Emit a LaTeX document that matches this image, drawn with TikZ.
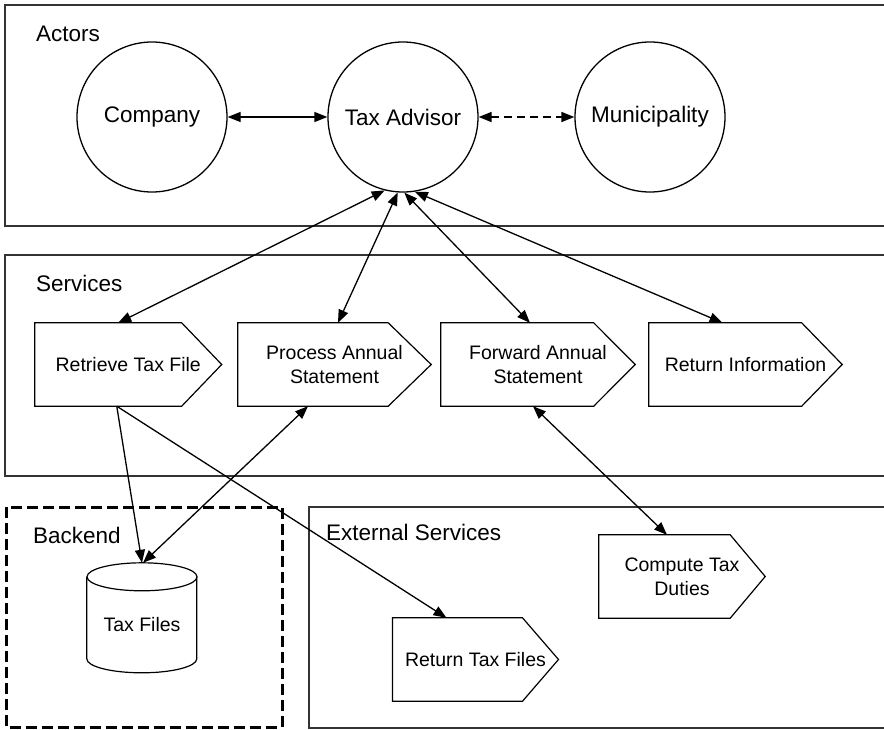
\documentclass[tikz,border=0pt]{standalone}
\usepackage{fontspec}
\setmainfont{Liberation Sans}
\usetikzlibrary{arrows.meta,calc}

% pentagon ("process step") outline around a named node; #2 = depth of the point
\newcommand\arrowbox[2]{%
  \draw[line width=1.2pt] (#1.north west) -- ([xshift=-#2pt]#1.north east)
    -- (#1.east) -- ([xshift=-#2pt]#1.south east) -- (#1.south west) -- cycle;}

\begin{document}
\begin{tikzpicture}[x=1pt,y=-1pt,
  frame/.style={draw=black!80, line width=2pt},
  lbl/.style={anchor=base west, inner sep=0pt, font=\fontsize{22.5}{27}\selectfont},
  actor/.style={circle, draw, line width=1.3pt, minimum size=150pt, inner sep=0pt,
                font=\fontsize{22.5}{27}\selectfont},
  svc/.style={draw=none, minimum height=83pt, inner sep=0pt, align=center,
              font=\fontsize{19.5}{24}\selectfont},
  tip/.tip={Triangle[length=13pt,width=10pt]},
  link/.style={line width=1.3pt, -tip},
  both/.style={line width=1.3pt, tip-tip},
]
\useasboundingbox (0,0) rectangle (884,729);
\clip (0,0) rectangle (884,729);

% layers
\draw[frame] (5,5) rectangle (900,226);
\draw[frame] (5,255) rectangle (900,476);
\draw[frame] (309,507) rectangle (900,728);
\draw[draw=black, line width=3pt, dash pattern=on 11pt off 5pt] (6,507) rectangle (282,727);

\node[lbl] (lact) at (36,41) {Actors};
\node[lbl] (lsrv) at (36,291) {Services};
\node[lbl] (lbck) at (33,543) {Backend};
\node[lbl] (lext) at (326,540) {External Services};

% actors
\node[actor] (co) at (152,117) {Company};
\node[actor] (ta) at (403,117) {Tax Advisor};
\node[actor] (mu) at (650,117) {Municipality};

% services
\node[svc, minimum width=186.5pt] (rt) at (128.25,364.5) {Retrieve Tax File};
\arrowbox{rt}{40}
\node[svc, minimum width=193pt] (pa) at (334.5,364.5) {Process Annual\\Statement};
\arrowbox{pa}{43}
\node[svc, minimum width=194pt] (fa) at (538,364.5) {Forward Annual\\Statement};
\arrowbox{fa}{41.5}
\node[svc, minimum width=193pt] (ri) at (745.5,364.5) {Return Information};
\arrowbox{ri}{40.5}

% external services
\node[svc, minimum width=166pt] (ct) at (682,576.5) {Compute Tax\\Duties};
\arrowbox{ct}{35}
\node[svc, minimum width=165.6pt] (rtf) at (475.5,659.5) {Return Tax Files};
\arrowbox{rtf}{36}

% backend store
\node[draw=none, minimum width=110pt, minimum height=110pt, inner sep=0pt] (tf) at (142,618) {};
\draw[line width=1.2pt] ($(tf.north)+(0,14)$) ellipse [x radius=55pt, y radius=14pt];
\draw[line width=1.2pt] ($(tf.north west)+(0,14)$) -- ++(0,82)
  arc[start angle=180, end angle=360, x radius=55pt, y radius=14pt] -- ++(0,-82);
\node[font=\fontsize{19.5}{24}\selectfont, inner sep=0pt] (tft) at ([yshift=-7pt]tf.center) {Tax Files};

% connectors
\draw[both] (co) -- (ta);
\draw[both, line width=1.6pt, dash pattern=on 8pt off 5pt] (ta) -- (mu);
\draw[both] (ta.256) -- ([xshift=-10pt]rt.north);
\draw[both] (ta.266) -- ([xshift=3.5pt]pa.north);
\draw[both] (ta.271) -- ([xshift=-8pt]fa.north);
\draw[both] (ta.279) -- ([xshift=-23pt]ri.north);
\draw[link] ([xshift=-11.5pt]rt.south) -- (tf.north);
\draw[link] ([xshift=-11.5pt]rt.south) -- ([xshift=-29pt]rtf.north);
\draw[both] ([xshift=-26.5pt]pa.south) -- ([xshift=1pt]tf.north);
\draw[both] ([xshift=-5pt]fa.south) -- ([xshift=-15pt]ct.north);
\end{tikzpicture}
\end{document}
